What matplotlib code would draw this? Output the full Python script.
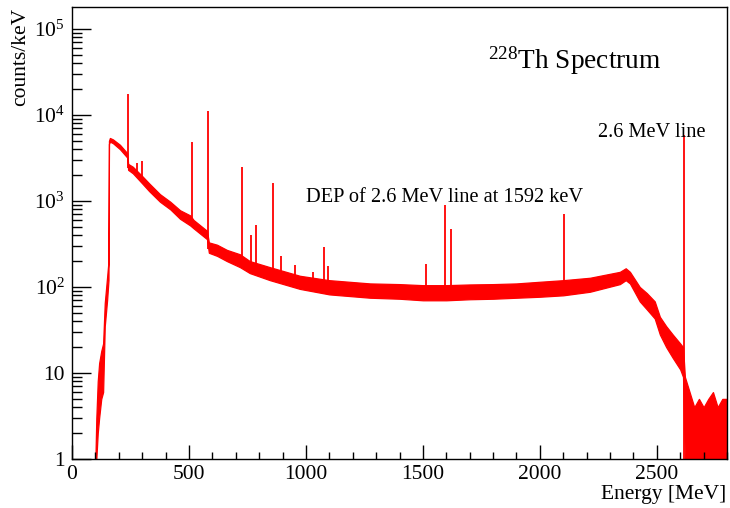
import matplotlib
matplotlib.use("Agg")
import matplotlib.pyplot as plt
from matplotlib.ticker import FixedLocator, FixedFormatter, MultipleLocator
import numpy as np

plt.rcParams['font.family'] = ['Liberation Serif', 'DejaVu Serif']
plt.rcParams['mathtext.fontset'] = 'custom'
plt.rcParams['mathtext.rm'] = 'Liberation Serif'
plt.rcParams['mathtext.it'] = 'Liberation Serif:italic'

# continuum band of the spectrum (energy in keV, lower / upper edge in counts/keV)
cont_e = [100, 104, 110, 116, 125, 133, 140, 150, 156, 158, 162, 175, 205, 236,
          240, 260, 300, 330, 376, 420, 462, 505, 520, 577, 585, 620, 662, 718,
          760, 846, 974, 1100, 1274, 1400, 1500, 1600, 1700, 1800, 1900, 2000,
          2100, 2214, 2342, 2367, 2385, 2427, 2457, 2491, 2513, 2540, 2568, 2600,
          2612, 2620, 2640, 2660, 2680, 2700, 2720, 2740, 2760, 2780, 2800]
cont_lo = [1, 1, 2, 3, 5, 6, 35, 70, 120, 4600, 4900, 4700, 4000, 3200,
           2300, 2100, 1600, 1300, 980, 800, 620, 520, 480, 360, 250, 230, 200, 170,
           145, 120, 95, 82, 75, 73, 70, 70, 72, 73, 75, 77,
           80, 88, 108, 120, 110, 68, 55, 43, 28, 20, 15, 11,
           9, 1, 1, 1, 1, 1, 1, 1, 1, 1, 1]
cont_hi = [1, 3, 8, 13, 18, 22, 65, 130, 200, 5000, 5400, 5200, 4500, 3600,
           2700, 2500, 1950, 1600, 1200, 980, 780, 680, 600, 450, 330, 310, 270, 240,
           200, 170, 135, 120, 110, 108, 105, 105, 107, 108, 110, 115,
           120, 128, 150, 165, 150, 100, 85, 68, 45, 35, 28, 22,
           20, 9, 6, 4, 5, 4, 5, 6, 4, 5, 5]

# gamma lines: energy (keV), peak top and base (counts/keV)
peak_e = [239, 278, 300, 511, 583, 727, 765, 785, 860, 893, 953, 1030, 1077,
          1093, 1512, 1594, 1620, 2103, 2615]
peak_top = [17500, 2800, 2900, 4900, 11000, 2500, 400, 530, 1620, 230, 180, 150,
            290, 175, 185, 900, 470, 700, 5800]
peak_base = [2400, 2000, 1800, 550, 280, 190, 160, 150, 140, 125, 110, 100, 95,
             95, 85, 80, 85, 90, 1]

y_ticks = [1, 10, 100, 1000, 10000, 100000]
y_labels = ['1', '10', r'$\mathregular{10^{2}}$', r'$\mathregular{10^{3}}$',
            r'$\mathregular{10^{4}}$', r'$\mathregular{10^{5}}$']

W, H = 730, 508
fig = plt.figure(figsize=(W / 100, H / 100), dpi=100)
ax = fig.add_axes([72 / W, 1 - 459 / H, 655 / W, 452 / H])

ax.fill_between(cont_e, cont_lo, cont_hi, color='#ff0000', lw=0.9)
ax.vlines(peak_e, peak_base, peak_top, color='#ff0000', lw=1.3)

ax.set_yscale('log')
ax.set_xlim(0, 2800)
ax.set_ylim(1, 1.8e5)

ax.xaxis.set_major_locator(MultipleLocator(500))
ax.xaxis.set_minor_locator(MultipleLocator(100))
ax.yaxis.set_major_locator(FixedLocator(y_ticks))
ax.yaxis.set_major_formatter(FixedFormatter(y_labels))
ax.tick_params(axis='both', which='both', direction='in', labelsize=15.5,
               top=False, right=False, width=1, color='black')
ax.tick_params(axis='x', which='major', length=10, pad=4)
ax.tick_params(axis='x', which='minor', length=5)
ax.tick_params(axis='y', which='major', length=14, pad=5)
ax.tick_params(axis='y', which='minor', length=7)
for s in ax.spines.values():
    s.set_linewidth(1)

fig.text(726 / W, 1 - 499 / H, 'Energy [MeV]', ha='right', va='baseline', fontsize=15.5)
fig.text(21 / W, 1 - 8 / H, 'counts/keV', rotation=90, ha='center', va='top', fontsize=15.5)

fig.text(488 / W, 1 - 69 / H, r'$^{228}$Th Spectrum', ha='left', va='baseline', fontsize=19.7)
fig.text(598 / W, 1 - 137 / H, '2.6 MeV line', ha='left', va='baseline', fontsize=14.7)
fig.text(306 / W, 1 - 202 / H, 'DEP of 2.6 MeV line at 1592 keV', ha='left',
         va='baseline', fontsize=14.7)

fig.savefig('out.png', dpi=100)
